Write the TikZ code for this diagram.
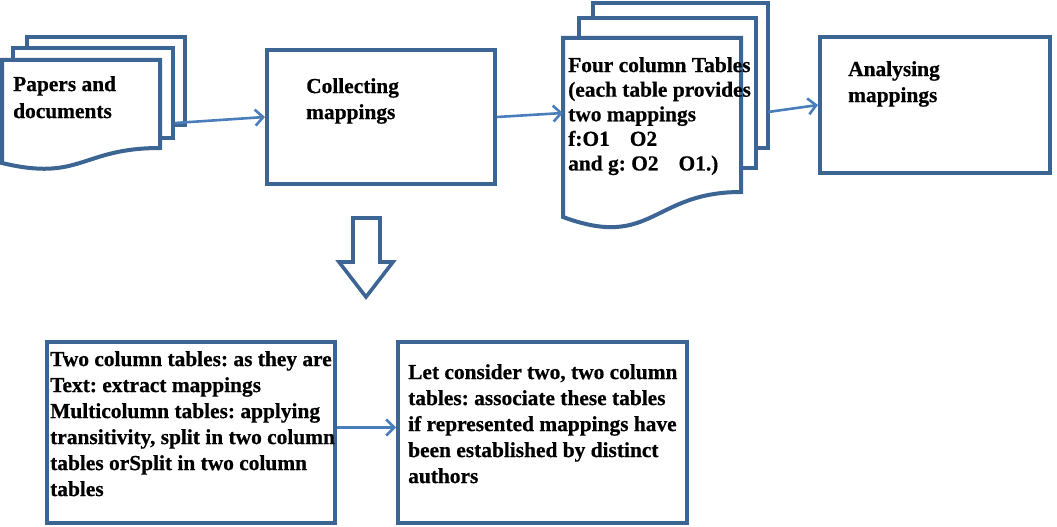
\documentclass[tikz,border=0pt]{standalone}
\usepackage{fontspec}
\setmainfont{Liberation Serif}[BoldFont={Liberation Serif Bold}]
\newfontfamily\boxfont{Liberation Serif Bold}[FakeBold=0.6]
\usetikzlibrary{arrows.meta}
\definecolor{boxblue}{HTML}{3D6594}
\definecolor{arrblue}{HTML}{4A7EBB}
\begin{document}
\frenchspacing
\begin{tikzpicture}[x=1pt,y=-1pt,
  docstyle/.style={draw=boxblue,line width=4pt,fill=white,line join=miter},
  boxstyle/.style={draw=boxblue,line width=4pt,fill=white,inner sep=0pt},
  arr/.style={draw=arrblue,line width=2.6pt,-{Straight Barb[length=8pt,width=16pt]}},
  txt/.style={anchor=north west,inner sep=0pt,align=left,font=\boxfont\fontsize{21.4}{26}\selectfont}]
\useasboundingbox (0,0) rectangle (1057,527);
% Papers and documents (multi-document)
\draw[docstyle] (27,37) rectangle (185,125);
\draw[docstyle] (13,48) rectangle (173,138);
\draw[docstyle] (2,60) -- (160,60) -- (160,148) .. controls (81,148) and (81,182) .. (2,163) -- cycle;
\node[txt,font=\boxfont\fontsize{21.4}{27}\selectfont] (pap) at (13,76) {Papers and\\documents};
\coordinate (papR) at (175,123);
% Collecting mappings
\node[boxstyle,minimum width=228pt,minimum height=134pt] (col) at (381,117) {};
\node[txt] (colt) at (306,78) {Collecting\\mappings};
% Four column tables (multi-document)
\draw[docstyle] (593,3) rectangle (768,148);
\draw[docstyle] (579,18) rectangle (756,168);
\draw[docstyle] (563,38) -- (741,38) -- (741,192) .. controls (652,192) and (652,250) .. (563,217) -- cycle;
\node[txt,font=\boxfont\fontsize{21.4}{24.6}\selectfont] (four) at (568,57) {Four column Tables\\(each table provides\\two mappings\\f:O1\hspace{20pt}O2\\and g: O2\hspace{20pt}O1.)};
\coordinate (fourL) at (563,113);
\coordinate (fourR) at (768,112);
% Analysing mappings
\node[boxstyle,minimum width=230pt,minimum height=136pt] (ana) at (935,105) {};
\node[txt] (anat) at (848,61) {Analysing\\mappings};
% arrows top row
\draw[arr] (papR) -- (col.west);
\draw[arr] (col.east) -- (fourL);
\draw[arr] (fourR) -- (ana.west);
% hollow down arrow
\draw[draw=boxblue,line width=3.6pt,fill=white,line join=miter] (353,218) -- (380,218) -- (380,262) -- (393,262) -- (366,297) -- (339,262) -- (353,262) -- cycle;
% lower boxes
\node[boxstyle,minimum width=288pt,minimum height=181pt] (low1) at (191,432.5) {};
\node[txt] (low1t) at (50,351) {Two column tables: as they are\\Text: extract mappings\\Multicolumn tables: applying\\transitivity, split in two column\\tables orSplit in two column\\tables};
\node[boxstyle,minimum width=289pt,minimum height=181pt] (low2) at (542.5,432.5) {};
\node[txt] (low2t) at (408,364) {Let consider two, two column\\tables: associate these tables\\if represented mappings have\\been established by distinct\\authors};
\draw[arr] ([yshift=5pt]low1.east) -- ([yshift=5pt]low2.west);
\end{tikzpicture}
\end{document}
